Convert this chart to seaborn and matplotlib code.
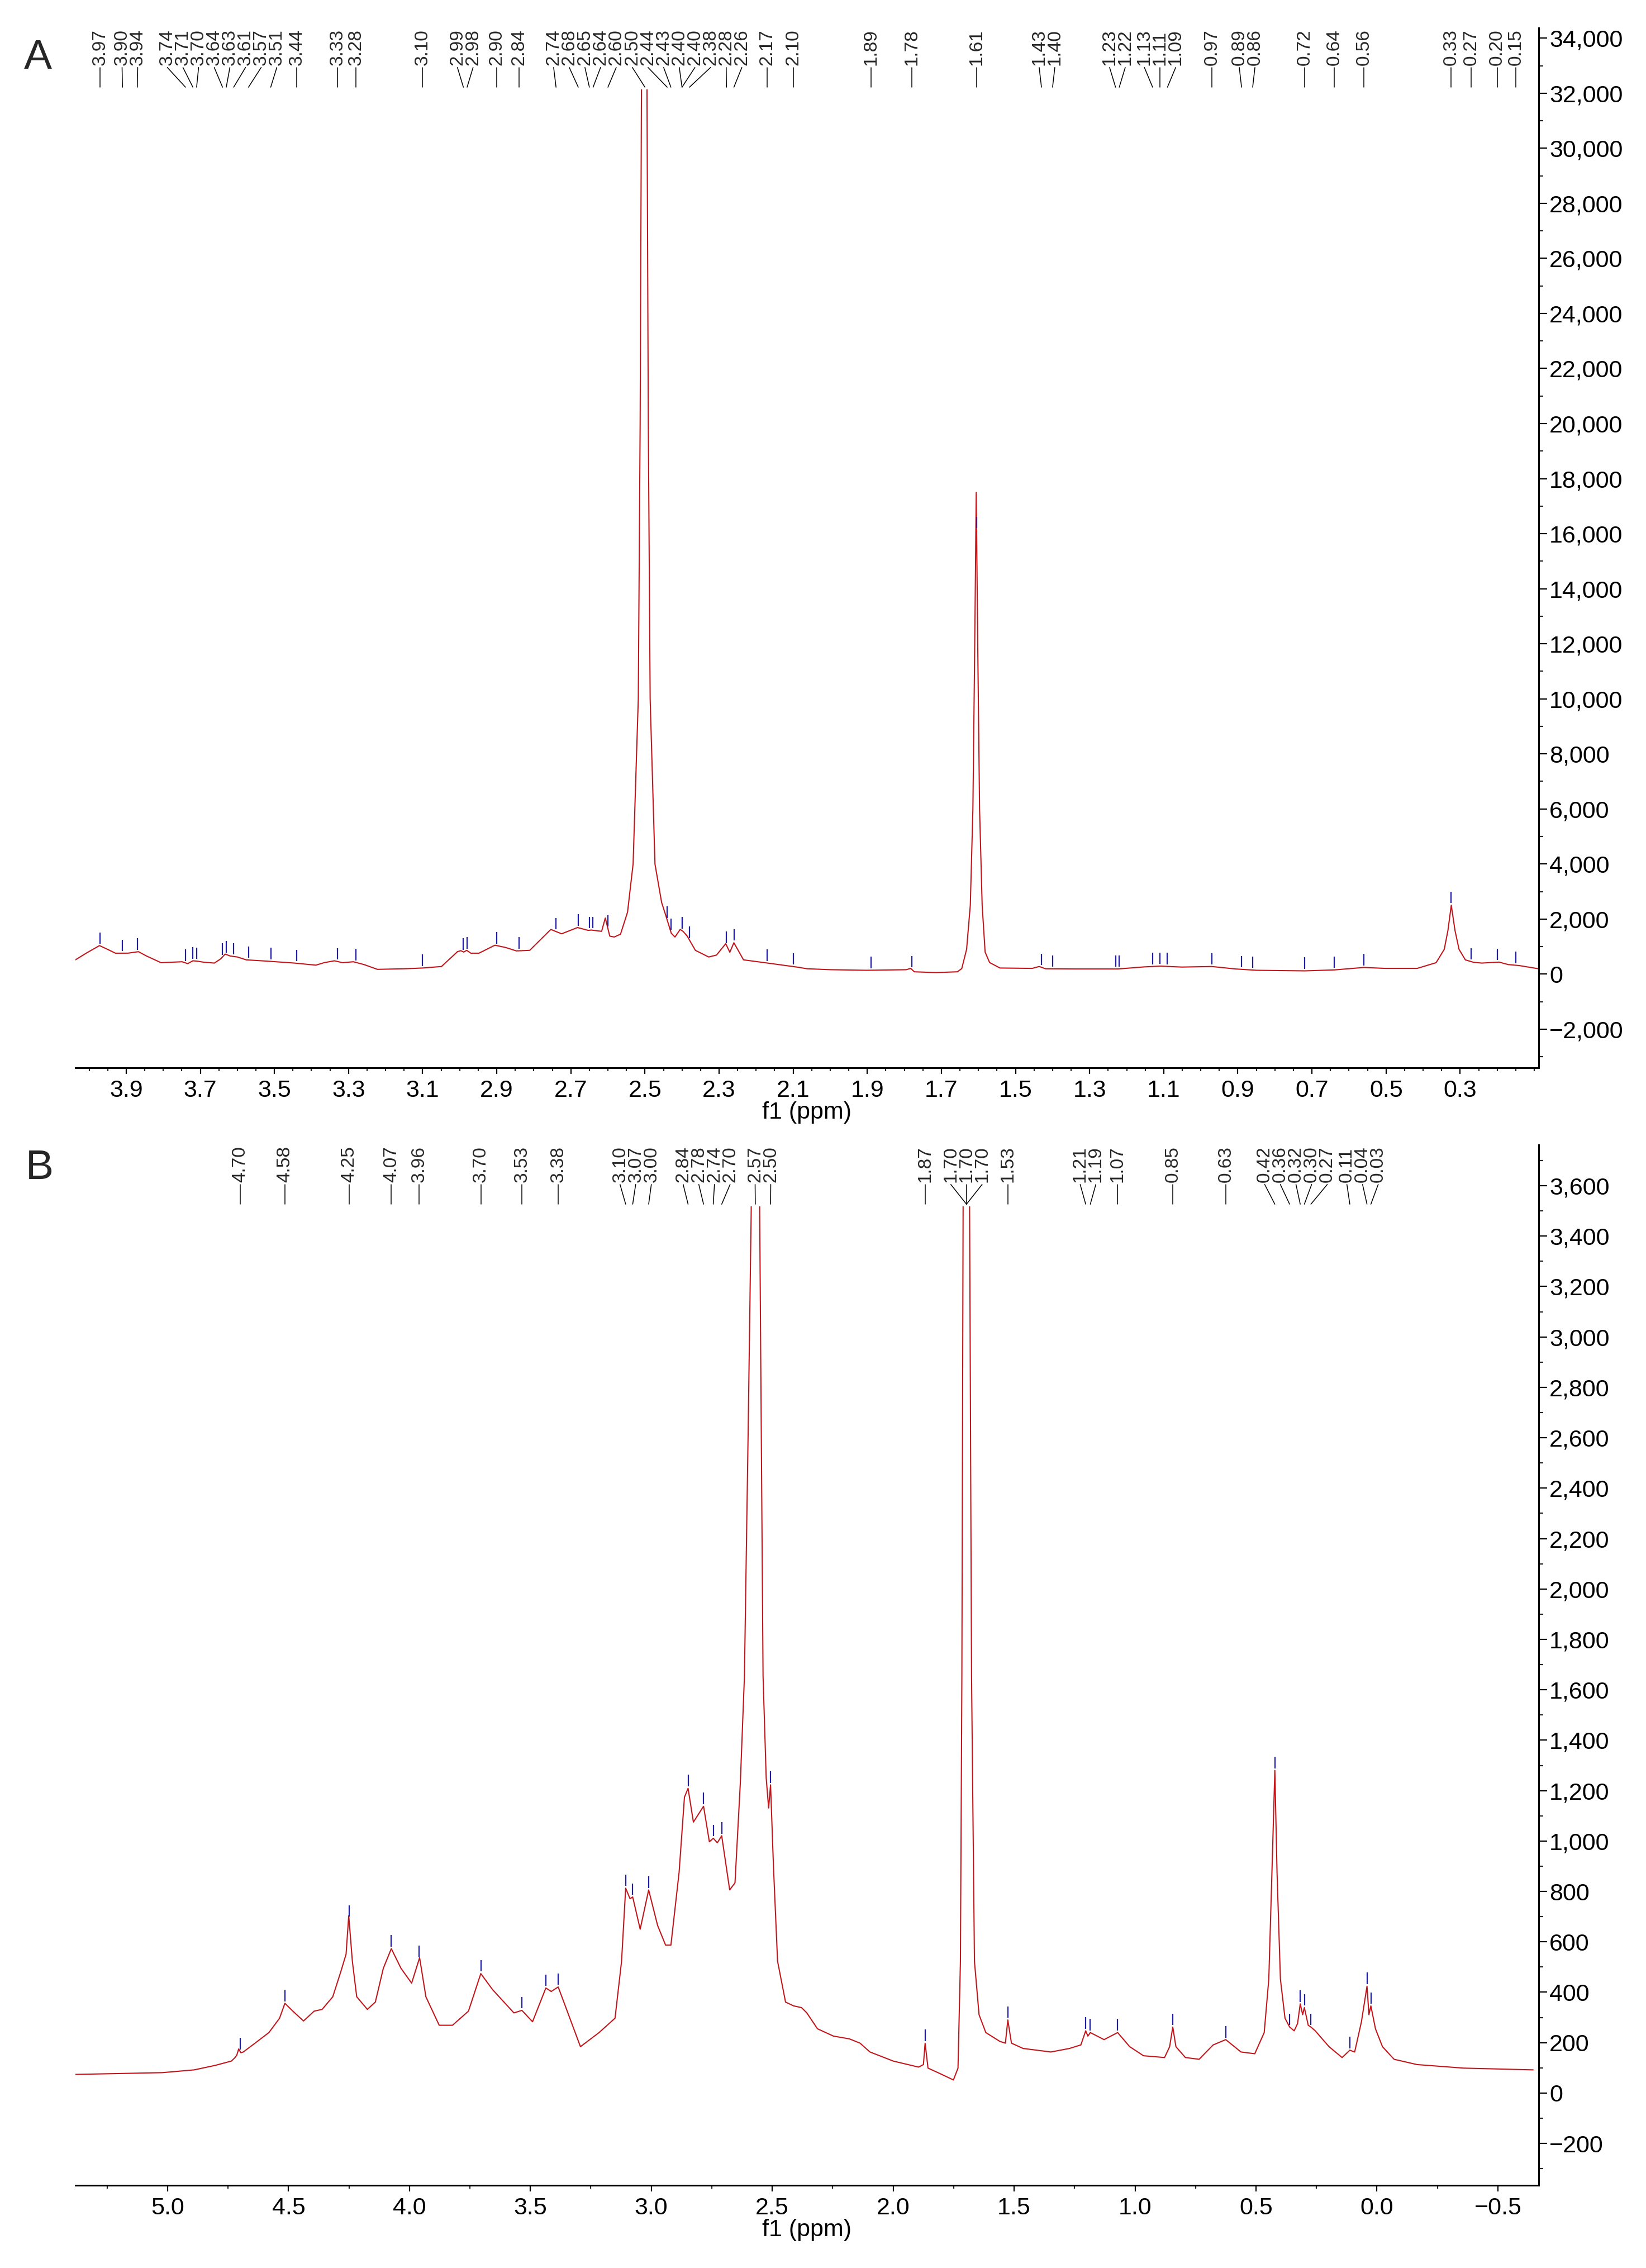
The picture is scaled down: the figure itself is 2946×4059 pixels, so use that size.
import numpy as np
import pandas as pd
import matplotlib
matplotlib.use("Agg")
import matplotlib.pyplot as plt
from matplotlib.patches import Rectangle
from matplotlib.ticker import FixedLocator, MultipleLocator, FuncFormatter
import seaborn as sns

# ── Panel A spectrum (ppm, intensity) ──
a_ppm = [4.037, 4.008, 3.972, 3.950, 3.929, 3.895, 3.867, 3.845, 3.806, 3.770,
         3.749, 3.734, 3.720, 3.708, 3.690, 3.662, 3.645, 3.633, 3.619, 3.600,
         3.576, 3.518, 3.446, 3.388, 3.366, 3.338, 3.316, 3.287, 3.258, 3.222,
         3.150, 3.100, 3.049, 3.006, 2.997, 2.989, 2.981, 2.970, 2.948, 2.905,
         2.876, 2.847, 2.811, 2.754, 2.725, 2.682, 2.653, 2.645, 2.617, 2.607,
         2.595, 2.583, 2.566, 2.547, 2.532, 2.518, 2.513, 2.5095, 2.506, 2.498,
         2.4945, 2.491, 2.486, 2.473, 2.455, 2.444, 2.429, 2.419, 2.405, 2.397,
         2.386, 2.364, 2.328, 2.307, 2.282, 2.271, 2.260, 2.234, 2.169, 2.090,
         2.062, 2.000, 1.903, 1.795, 1.783, 1.773, 1.715, 1.657, 1.645, 1.632,
         1.622, 1.615, 1.610, 1.606, 1.602, 1.597, 1.590, 1.582, 1.570, 1.542,
         1.455, 1.436, 1.419, 1.340, 1.224, 1.152, 1.109, 1.051, 0.971, 0.906,
         0.849, 0.719, 0.639, 0.560, 0.502, 0.416, 0.365, 0.343, 0.333, 0.324,
         0.314, 0.303, 0.286, 0.264, 0.242, 0.195, 0.170, 0.141, 0.088]
a_int = [517, 759, 1035, 897, 759, 760, 814, 656, 414, 435,
         448, 380, 483, 469, 430, 400, 552, 725, 656, 621,
         517, 469, 400, 324, 414, 483, 414, 448, 345, 172,
         193, 221, 276, 814, 850, 800, 863, 759, 759, 1049,
         966, 842, 863, 1622, 1463, 1691, 1587, 1600, 1553, 2036,
         1380, 1346, 1449, 2250, 4000, 10000, 20000, 32000, 60000, 60000,
         32000, 20000, 10000, 4000, 2600, 2139, 1484, 1346, 1622, 1550,
         1380, 863, 621, 690, 1104, 794, 1139, 517, 400, 255,
         193, 160, 138, 159, 207, 83, 55, 83, 200, 900,
         2500, 6000, 12000, 17500, 12000, 6000, 2500, 800, 420, 221,
         207, 276, 193, 186, 186, 262, 290, 255, 276, 186,
         138, 117, 152, 241, 207, 207, 414, 897, 1587, 2500,
         1587, 897, 517, 428, 400, 435, 345, 310, 193]

a_peak_ppm = [3.97, 3.91, 3.87, 3.74, 3.72, 3.71, 3.64, 3.63, 3.61, 3.57, 3.51,
              3.44, 3.33, 3.28, 3.10, 2.99, 2.98, 2.90, 2.84, 2.74, 2.68, 2.65,
              2.64, 2.60, 2.50, 2.44, 2.43, 2.40, 2.40, 2.38, 2.28, 2.26, 2.17,
              2.10, 1.89, 1.78, 1.605, 1.43, 1.40, 1.23, 1.22, 1.13, 1.11, 1.09,
              0.97, 0.89, 0.86, 0.72, 0.64, 0.56, 0.324, 0.27, 0.20, 0.15]
a_peak_txt = ["3.97", "3.90", "3.94", "3.74", "3.71", "3.70", "3.64", "3.63",
              "3.61", "3.57", "3.51", "3.44", "3.33", "3.28", "3.10", "2.99",
              "2.98", "2.90", "2.84", "2.74", "2.68", "2.65", "2.64", "2.60",
              "2.50", "2.44", "2.43", "2.40", "2.40", "2.38", "2.28", "2.26",
              "2.17", "2.10", "1.89", "1.78", "1.61", "1.43", "1.40", "1.23",
              "1.22", "1.13", "1.11", "1.09", "0.97", "0.89", "0.86", "0.72",
              "0.64", "0.56", "0.33", "0.27", "0.20", "0.15"]
a_extra_ticks = []

a_xlim = (4.037, 0.088)
a_ylim = (-3404, 34371)
a_xticks = [3.9, 3.7, 3.5, 3.3, 3.1, 2.9, 2.7, 2.5, 2.3, 2.1, 1.9, 1.7, 1.5,
            1.3, 1.1, 0.9, 0.7, 0.5, 0.3]
a_yticks = [-2000, 0, 2000, 4000, 6000, 8000, 10000, 12000, 14000, 16000,
            18000, 20000, 22000, 24000, 26000, 28000, 30000, 32000, 34000]

# ── Panel B spectrum ──
b_ppm = [5.381, 5.022, 4.890, 4.802, 4.736, 4.722, 4.714, 4.706, 4.697, 4.687,
         4.648, 4.581, 4.537, 4.515, 4.482, 4.438, 4.394, 4.361, 4.317, 4.284,
         4.262, 4.251, 4.236, 4.218, 4.174, 4.141, 4.108, 4.075, 4.035, 3.991,
         3.958, 3.932, 3.877, 3.822, 3.756, 3.705, 3.656, 3.568, 3.535, 3.491,
         3.436, 3.414, 3.385, 3.337, 3.293, 3.216, 3.150, 3.123, 3.106, 3.088,
         3.077, 3.046, 3.011, 2.974, 2.941, 2.919, 2.885, 2.863, 2.848, 2.826,
         2.784, 2.760, 2.744, 2.727, 2.709, 2.676, 2.654, 2.632, 2.615, 2.600,
         2.587, 2.578, 2.570, 2.562, 2.552, 2.538, 2.525, 2.515, 2.507, 2.495,
         2.478, 2.445, 2.412, 2.379, 2.357, 2.313, 2.247, 2.181, 2.137, 2.096,
         2.000, 1.895, 1.875, 1.868, 1.856, 1.808, 1.751, 1.732, 1.722, 1.716,
         1.711, 1.704, 1.697, 1.690, 1.684, 1.676, 1.668, 1.664, 1.645, 1.617,
         1.559, 1.536, 1.526, 1.511, 1.463, 1.348, 1.271, 1.224, 1.204, 1.195,
         1.185, 1.128, 1.072, 1.022, 0.965, 0.878, 0.857, 0.844, 0.831, 0.792,
         0.735, 0.677, 0.625, 0.562, 0.505, 0.466, 0.447, 0.434, 0.422, 0.413,
         0.399, 0.380, 0.361, 0.342, 0.328, 0.317, 0.307, 0.300, 0.284, 0.273,
         0.255, 0.198, 0.144, 0.112, 0.092, 0.064, 0.041, 0.033, 0.025, 0.006,
         -0.023, -0.071, -0.166, -0.358, -0.646]
b_int = [74, 81, 92, 110, 127, 140, 150, 175, 160, 163,
         191, 240, 297, 356, 325, 286, 325, 332, 382, 481,
         551, 704, 523, 382, 332, 361, 495, 573, 495, 436,
         537, 382, 269, 269, 325, 474, 410, 318, 328, 283,
         417, 403, 421, 297, 184, 240, 297, 523, 813, 771,
         778, 650, 806, 665, 587, 587, 877, 1174, 1209, 1075,
         1138, 997, 1011, 993, 1021, 806, 834, 1230, 1654, 2600,
         3500, 6000, 8000, 6000, 3500, 1654, 1250, 1131, 1223, 900,
         523, 361, 346, 339, 318, 255, 226, 215, 198, 163,
         127, 103, 113, 198, 99, 78, 52, 99, 523, 1654,
         3500, 6000, 8000, 6000, 3500, 1654, 900, 523, 311, 240,
         205, 198, 290, 198, 177, 163, 177, 191, 247, 226,
         240, 212, 240, 184, 148, 141, 184, 262, 184, 141,
         134, 191, 212, 163, 156, 240, 452, 877, 1280, 877,
         452, 297, 262, 247, 276, 354, 311, 339, 269, 262,
         247, 184, 141, 170, 163, 283, 424, 311, 346, 255,
         184, 134, 113, 99, 92]

b_peak_ppm = [4.70, 4.515, 4.25, 4.075, 3.96, 3.705, 3.535, 3.385, 3.106, 3.077,
              3.011, 2.848, 2.784, 2.744, 2.709, 2.57, 2.507, 1.868, 1.697,
              1.697, 1.697, 1.526, 1.204, 1.185, 1.072, 0.844, 0.625, 0.422,
              0.361, 0.317, 0.300, 0.273, 0.112, 0.041, 0.025]
b_peak_txt = ["4.70", "4.58", "4.25", "4.07", "3.96", "3.70", "3.53", "3.38",
              "3.10", "3.07", "3.00", "2.84", "2.78", "2.74", "2.70", "2.57",
              "2.50", "1.87", "1.70", "1.70", "1.70", "1.53", "1.21", "1.19",
              "1.07", "0.85", "0.63", "0.42", "0.36", "0.32", "0.30", "0.27",
              "0.11", "0.04", "0.03"]
b_extra_ticks = [3.436]

b_xlim = (5.381, -0.669)
b_ylim = (-366, 3762)
b_xticks = [5.0, 4.5, 4.0, 3.5, 3.0, 2.5, 2.0, 1.5, 1.0, 0.5, 0.0, -0.5]
b_yticks = [-200, 0, 200, 400, 600, 800, 1000, 1200, 1400, 1600, 1800, 2000,
            2200, 2400, 2600, 2800, 3000, 3200, 3400, 3600]

# ── Style ──
FIG_W, FIG_H, DPI = 2946, 4059, 200
AX_LEFT, AX_RIGHT = 135, 2754
LINE_RED = "#c0161b"
TICK_BLUE = "#1c1ca8"
LABEL_GAP_PX = 28
TEXT_BOTTOM = 0.964
CONN_BOTTOM = 0.943
CLIP_TOP = 0.941

sns.set_theme(style="white")
plt.rcParams["font.family"] = ["Liberation Sans", "DejaVu Sans"]


def spread(fr, gap):
    """Push overlapping label positions apart, keeping groups centred."""
    clusters = [[f] for f in fr]
    merged = True
    while merged:
        merged = False
        out = [clusters[0]]
        for c in clusters[1:]:
            p = out[-1]
            p_end = np.mean(p) + (len(p) - 1) / 2 * gap
            c_start = np.mean(c) - (len(c) - 1) / 2 * gap
            if c_start - p_end < gap - 1e-9:
                out[-1] = p + c
                merged = True
            else:
                out.append(c)
        clusters = out
    res = []
    for c in clusters:
        m = np.mean(c)
        res += [m + (i - (len(c) - 1) / 2) * gap for i in range(len(c))]
    return res


def fmt_y(v, _):
    return f"{v:,.0f}".replace("-", "\u2212")


def fmt_x(v, _):
    return f"{v:.1f}".replace("-", "\u2212")


def draw_panel(ax, ppm, inten, peak_ppm, peak_txt, extra, xlim, ylim,
               xticks, xminor, yticks, yminor):
    df = pd.DataFrame({"ppm": ppm, "intensity": inten})
    sns.lineplot(data=df, x="ppm", y="intensity", ax=ax, sort=False,
                 estimator=None, color=LINE_RED, linewidth=0.75)
    ax.set_xlim(*xlim)
    ax.set_ylim(*ylim)

    clip = Rectangle((0, 0), 1, CLIP_TOP, transform=ax.transAxes)
    ax.lines[-1].set_clip_path(clip)

    # blue peak markers sitting on the curve
    span = ylim[1] - ylim[0]
    xs = np.array(ppm)[::-1]
    ys = np.array(inten)[::-1]
    for p in list(peak_ppm) + list(extra):
        base = np.interp(p, xs, ys) + 0.002 * span
        lc = ax.vlines(p, base, base + 0.011 * span, color=TICK_BLUE, lw=0.8)
        lc.set_clip_path(clip)

    # peak labels along the top, spread apart, with connectors
    x0, x1 = xlim
    fr = [(x0 - p) / (x0 - x1) for p in peak_ppm]
    gap = LABEL_GAP_PX / (AX_RIGHT - AX_LEFT)
    lab = spread(fr, gap)
    for f, lf, t in zip(fr, lab, peak_txt):
        ax.plot([lf, f], [TEXT_BOTTOM - 0.002, CONN_BOTTOM],
                transform=ax.transAxes, color="black", lw=0.55, clip_on=False)
        ax.text(lf, TEXT_BOTTOM, t, rotation=90, ha="center", va="bottom",
                transform=ax.transAxes, fontsize=12, clip_on=False)

    # axes: y on the right, only right/bottom spines
    for s in ("left", "top"):
        ax.spines[s].set_visible(False)
    for s in ("right", "bottom"):
        ax.spines[s].set_linewidth(1.1)
        ax.spines[s].set_color("black")
    ax.yaxis.tick_right()
    ax.xaxis.set_major_locator(FixedLocator(xticks))
    ax.xaxis.set_minor_locator(MultipleLocator(xminor))
    ax.xaxis.set_major_formatter(FuncFormatter(fmt_x))
    ax.yaxis.set_major_locator(FixedLocator(yticks))
    ax.yaxis.set_minor_locator(MultipleLocator(yminor))
    ax.yaxis.set_major_formatter(FuncFormatter(fmt_y))
    ax.tick_params(axis="x", which="major", direction="out", length=4,
                   width=0.8, pad=3.6, labelsize=15.5, colors="black",
                   bottom=True)
    ax.tick_params(axis="x", which="minor", direction="out", length=2.2,
                   width=0.8, bottom=True)
    ax.tick_params(axis="y", which="major", direction="out", length=5.4,
                   width=0.8, pad=1.5, labelsize=15.5, colors="black",
                   right=True, left=False)
    ax.tick_params(axis="y", which="minor", direction="out", length=2.9,
                   width=0.8, right=True, left=False)
    ax.set_ylabel("")
    ax.set_xlabel("f1 (ppm)", fontsize=15.5, color="black")
    ax.xaxis.set_label_coords(0.5, -0.032)
    ax.grid(False)


fig = plt.figure(figsize=(FIG_W / DPI, FIG_H / DPI), dpi=DPI)
ax_a = fig.add_axes([AX_LEFT / FIG_W, 1 - 1911 / FIG_H,
                     (AX_RIGHT - AX_LEFT) / FIG_W, (1911 - 50) / FIG_H])
ax_b = fig.add_axes([AX_LEFT / FIG_W, 1 - 3911 / FIG_H,
                     (AX_RIGHT - AX_LEFT) / FIG_W, (3911 - 2049) / FIG_H])

draw_panel(ax_a, a_ppm, a_int, a_peak_ppm, a_peak_txt, a_extra_ticks,
           a_xlim, a_ylim, a_xticks, 0.05, a_yticks, 1000)
draw_panel(ax_b, b_ppm, b_int, b_peak_ppm, b_peak_txt, b_extra_ticks,
           b_xlim, b_ylim, b_xticks, 0.25, b_yticks, 100)

fig.text(43 / FIG_W, 1 - 123 / FIG_H, "A", fontsize=27, ha="left", va="baseline")
fig.text(46 / FIG_W, 1 - 2110 / FIG_H, "B", fontsize=27, ha="left", va="baseline")

fig.savefig("out.png", dpi=DPI)
plt.close(fig)
